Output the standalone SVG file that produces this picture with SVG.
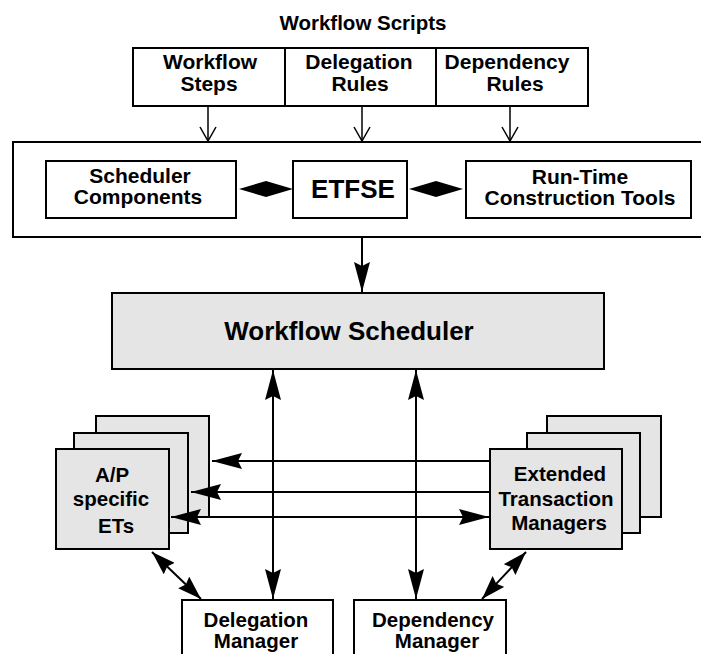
<svg xmlns="http://www.w3.org/2000/svg" width="701" height="654" viewBox="0 0 701 654">
  <style>
    .box { fill: #ffffff; stroke: #000000; stroke-width: 2; }
    .gray { fill: #e5e5e5; stroke: #000000; stroke-width: 2; }
    .lbl { font-family: "Liberation Sans", Arial, Helvetica, sans-serif; font-weight: bold; font-size: 20.5px; fill: #000000; text-anchor: middle; }
    .upper { font-size: 21px; }
    .big { font-size: 26px; }
    .title { font-size: 20.5px; }
    .wire { fill: none; stroke: #000000; stroke-width: 2; }
    .thin { fill: none; stroke: #000000; stroke-width: 1.5; }
    .solid { fill: #000000; stroke: none; }
  </style>
  <defs>
    <!-- long filled arrowhead -->
    <marker id="tip" markerUnits="userSpaceOnUse" viewBox="0 0 30 16" refX="30" refY="8" markerWidth="30" markerHeight="16" orient="auto-start-reverse">
      <path d="M0,0 L30,8 L0,16 L4,8 Z" fill="#000000"/>
    </marker>
    <!-- short filled arrowhead for the diagonal links -->
    <marker id="tipS" markerUnits="userSpaceOnUse" viewBox="0 0 24 16" refX="24" refY="8" markerWidth="24" markerHeight="16" orient="auto-start-reverse">
      <path d="M0,0 L24,8 L0,16 L3,8 Z" fill="#000000"/>
    </marker>
    <!-- open vee arrowhead -->
    <marker id="vee" markerUnits="userSpaceOnUse" viewBox="0 0 16 18" refX="15" refY="9" markerWidth="16" markerHeight="18" orient="auto">
      <path d="M1,1 L15,9 L1,17" fill="none" stroke="#000000" stroke-width="1.5"/>
    </marker>
  </defs>

  <!-- script inputs -->
  <text class="lbl title" x="363" y="30">Workflow Scripts</text>
  <g id="workflow-steps">
    <rect class="box" x="133" y="48" width="152" height="58"/>
    <text class="lbl upper" x="210" y="69">Workflow</text>
    <text class="lbl upper" x="209" y="91">Steps</text>
  </g>
  <g id="delegation-rules">
    <rect class="box" x="285" y="48" width="151" height="58"/>
    <text class="lbl upper" x="359" y="69">Delegation</text>
    <text class="lbl upper" x="360" y="91">Rules</text>
  </g>
  <g id="dependency-rules">
    <rect class="box" x="436" y="48" width="152" height="58"/>
    <text class="lbl upper" x="507" y="69">Dependency</text>
    <text class="lbl upper" x="515" y="91">Rules</text>
  </g>

  <!-- toolkit frame -->
  <g id="toolkit">
    <rect class="box" x="13" y="142" width="700" height="95"/>
  </g>
  <g id="scheduler-components">
    <rect class="box" x="46" y="161" width="190" height="57"/>
    <text class="lbl upper" x="140" y="183">Scheduler</text>
    <text class="lbl upper" x="138" y="204">Components</text>
  </g>
  <g id="etfse">
    <rect class="box" x="293" y="161" width="114" height="57"/>
    <text class="lbl big" x="353" y="198">ETFSE</text>
  </g>
  <g id="runtime-tools">
    <rect class="box" x="466" y="161" width="225" height="57"/>
    <text class="lbl upper" x="580" y="184">Run-Time</text>
    <text class="lbl upper" x="580" y="205">Construction Tools</text>
  </g>

  <!-- scheduler -->
  <g id="workflow-scheduler">
    <rect class="gray" x="112" y="293" width="492" height="76"/>
    <text class="lbl big" x="349" y="340">Workflow Scheduler</text>
  </g>

  <!-- application-specific extended transactions (stack) -->
  <g id="ap-specific-ets">
    <rect class="gray" x="96" y="416" width="113" height="101"/>
    <rect class="gray" x="74" y="433" width="114" height="100"/>
    <rect class="gray" x="56" y="449" width="113" height="100"/>
    <text class="lbl" x="112" y="482">A/P</text>
    <text class="lbl" x="111" y="506">specific</text>
    <text class="lbl" x="116" y="533">ETs</text>
  </g>

  <!-- extended transaction managers (stack) -->
  <g id="et-managers">
    <rect class="gray" x="547" y="416" width="114" height="101"/>
    <rect class="gray" x="527" y="433" width="113" height="100"/>
    <rect class="gray" x="490" y="449" width="132" height="100"/>
    <text class="lbl" x="560" y="481">Extended</text>
    <text class="lbl" x="556" y="506">Transaction</text>
    <text class="lbl" x="559" y="530">Managers</text>
  </g>

  <g id="delegation-manager">
    <rect class="box" x="182" y="600" width="151" height="60"/>
    <text class="lbl" x="256" y="627">Delegation</text>
    <text class="lbl" x="256" y="648">Manager</text>
  </g>
  <g id="dependency-manager">
    <rect class="box" x="354" y="600" width="152" height="60"/>
    <text class="lbl" x="433" y="627">Dependency</text>
    <text class="lbl" x="437" y="648">Manager</text>
  </g>

  <!-- connectors -->
  <g id="connectors">
    <line class="thin" x1="208" y1="106" x2="208" y2="141" marker-end="url(#vee)"/>
    <line class="thin" x1="362" y1="106" x2="362" y2="141" marker-end="url(#vee)"/>
    <line class="thin" x1="510" y1="106" x2="510" y2="141" marker-end="url(#vee)"/>

    <!-- diamond links between toolkit parts -->
    <polygon class="solid" points="239,189 266,181 266,197"/>
    <polygon class="solid" points="293,189 266,181 266,197"/>
    <polygon class="solid" points="409,189 436,181 436,197"/>
    <polygon class="solid" points="463,189 436,181 436,197"/>

    <line class="wire" x1="362" y1="237" x2="362" y2="292" marker-end="url(#tip)"/>

    <line class="wire" x1="273" y1="370" x2="273" y2="599" marker-start="url(#tip)" marker-end="url(#tip)"/>
    <line class="wire" x1="416" y1="370" x2="416" y2="599" marker-start="url(#tip)" marker-end="url(#tip)"/>

    <line class="wire" x1="490" y1="461" x2="212" y2="461" marker-end="url(#tip)"/>
    <line class="wire" x1="490" y1="492" x2="191" y2="492" marker-end="url(#tip)"/>
    <line class="wire" x1="489" y1="517" x2="171" y2="517" marker-start="url(#tip)" marker-end="url(#tip)"/>

    <line class="wire" x1="152" y1="552" x2="201" y2="599" marker-start="url(#tipS)" marker-end="url(#tipS)"/>
    <line class="wire" x1="526" y1="552" x2="482" y2="599" marker-start="url(#tipS)" marker-end="url(#tipS)"/>
  </g>
</svg>
